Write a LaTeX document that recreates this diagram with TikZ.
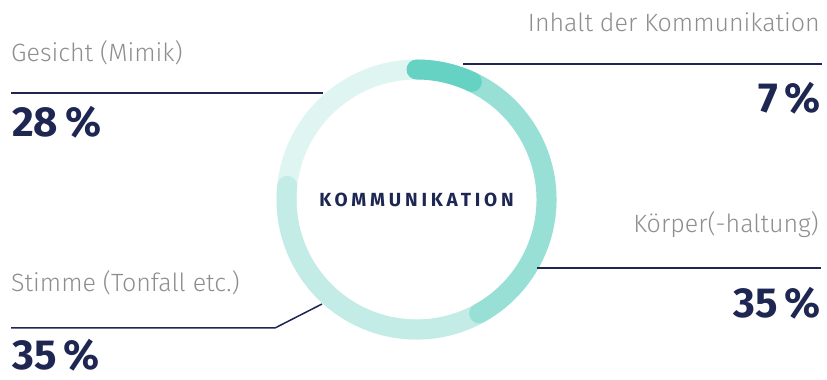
\documentclass[tikz,border=0pt]{standalone}
\usepackage{fontspec}
\setmainfont{Fira Sans}
\newfontfamily\lightfont{Fira Sans Light}
\definecolor{navy}{HTML}{1E2652}
\definecolor{labelgrey}{HTML}{8E8E8E}
\definecolor{tealA}{HTML}{66D2C4}
\definecolor{tealB}{HTML}{98E0D6}
\definecolor{tealC}{HTML}{C3ECE7}
\definecolor{tealD}{HTML}{DFF5F2}
\begin{document}
\begin{tikzpicture}[x=1pt,y=1pt,
  ring/.style={line width=20pt,line cap=round},
  leader/.style={navy,line width=1.5pt},
  part/.style={labelgrey,inner sep=0pt,font=\lightfont\fontsize{25}{29}\selectfont},
  share/.style={navy,inner sep=0pt,font=\bfseries\fontsize{42}{46}\selectfont}]
\useasboundingbox (0,0) rectangle (827,380);
\coordinate (c) at (416.5,180.5);
\draw [ring,line cap=butt,tealD] (c) circle [radius=130];
\draw [ring,tealC] (c) ++(-61.2:130) arc [start angle=-61.2,end angle=-186,radius=130];
\draw [ring,tealB] (c) ++(64.8:130) arc [start angle=64.8,end angle=-61.2,radius=130];
\draw [ring,tealA] (c) ++(90:130) arc [start angle=90,end angle=64.8,radius=130];
\node [navy,inner sep=0pt,anchor=base,font=\bfseries\fontsize{19}{22}\selectfont\addfontfeatures{LetterSpace=20}] (center) at (416.5,173) {KOMMUNIKATION};
\coordinate (inhalt-a) at (463,316);
\coordinate (inhalt-b) at (822,316);
\coordinate (gesicht-a) at (323,287);
\coordinate (gesicht-b) at (11,287);
\coordinate (koerper-a) at (537,112);
\coordinate (koerper-b) at (821,112);
\coordinate (stimme-a) at (322,76);
\coordinate (stimme-k) at (275,52);
\coordinate (stimme-b) at (11,52);
\draw [leader] (inhalt-a) -- (inhalt-b);
\draw [leader] (gesicht-a) -- (gesicht-b);
\draw [leader] (koerper-a) -- (koerper-b);
\draw [leader] (stimme-a) -- (stimme-k) -- (stimme-b);
\node [part,anchor=base west] (gesicht) at (11,318) {Gesicht (Mimik)};
\node [share,anchor=base west] (gesicht-p) at (12,243) {28\,\%};
\node [part,anchor=base east] (inhalt) at (820,348) {Inhalt der Kommunikation};
\node [share,anchor=base east] (inhalt-p) at (821,267) {7\,\%};
\node [part,anchor=base east] (koerper) at (819,147) {Körper(-haltung)};
\node [share,anchor=base east] (koerper-p) at (821,62) {35\,\%};
\node [part,anchor=base west] (stimme) at (11,88) {Stimme (Tonfall etc.)};
\node [share,anchor=base west] (stimme-p) at (12,10) {35\,\%};
\end{tikzpicture}
\end{document}
